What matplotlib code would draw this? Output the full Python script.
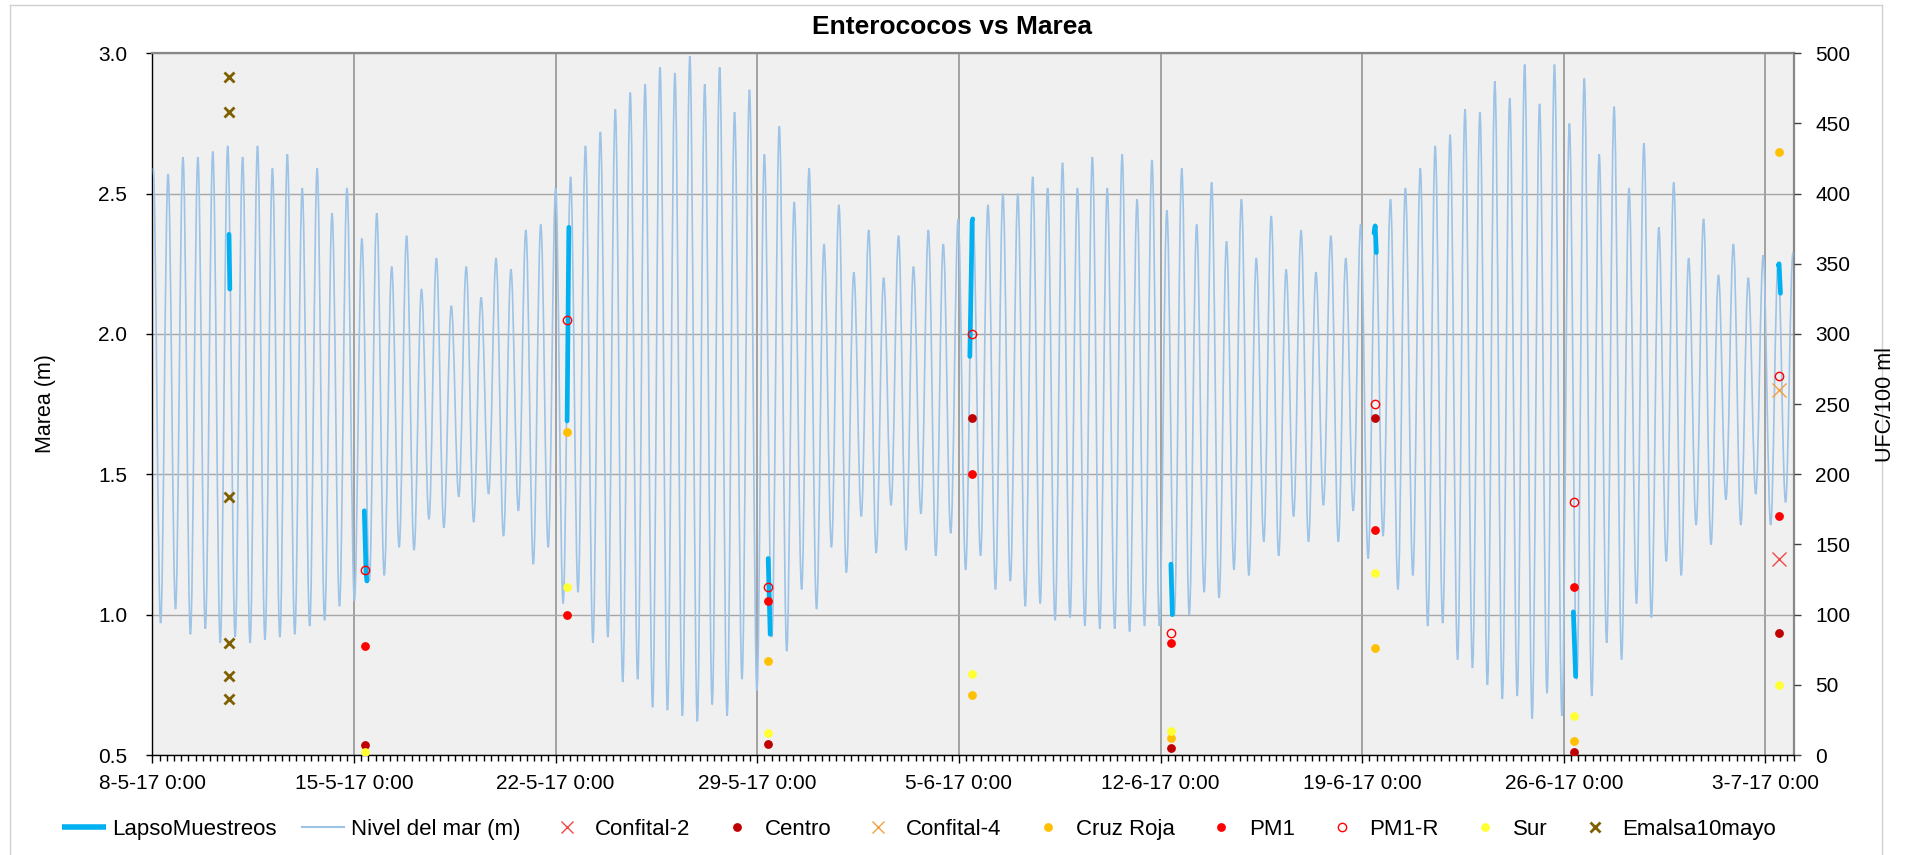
import numpy as np
import pandas as pd
import matplotlib
matplotlib.use("Agg")
import matplotlib.pyplot as plt
import matplotlib.dates as mdates
from matplotlib.lines import Line2D
from matplotlib.path import Path
from matplotlib.patches import PathPatch

plt.rcParams['font.family'] = ['Liberation Sans', 'DejaVu Sans']

# ---------------------------------------------------------------------------
# Sea level: successive high / low water levels (m), one every ~6 h 13 min
# ---------------------------------------------------------------------------
tide_start = "2017-05-08 00:43"
tide_step_min = 372.6
tide_levels = [
    2.59, 0.97, 2.57, 1.02, 2.63, 0.93, 2.63, 0.95, 2.65, 0.90,
    2.67, 0.92, 2.63, 0.90, 2.67, 0.91, 2.59, 0.92, 2.64, 0.93,
    2.52, 0.96, 2.59, 0.98, 2.43, 1.03, 2.52, 1.05, 2.34, 1.12,
    2.43, 1.14, 2.24, 1.24, 2.35, 1.23, 2.16, 1.34, 2.27, 1.31,
    2.10, 1.42, 2.24, 1.33, 2.13, 1.43, 2.27, 1.28, 2.23, 1.37,
    2.37, 1.18, 2.39, 1.24, 2.52, 1.04, 2.56, 1.08, 2.67, 0.90,
    2.72, 0.92, 2.80, 0.76, 2.86, 0.77, 2.89, 0.67, 2.95, 0.66,
    2.93, 0.64, 2.99, 0.62, 2.89, 0.68, 2.95, 0.64, 2.79, 0.77,
    2.87, 0.73, 2.64, 0.92, 2.74, 0.87, 2.47, 1.09, 2.59, 1.02,
    2.32, 1.24, 2.46, 1.15, 2.22, 1.35, 2.37, 1.22, 2.20, 1.39,
    2.35, 1.23, 2.24, 1.36, 2.37, 1.21, 2.32, 1.29, 2.41, 1.16,
    2.41, 1.21, 2.46, 1.09, 2.50, 1.12, 2.50, 1.03, 2.56, 1.04,
    2.52, 0.98, 2.61, 0.99, 2.52, 0.96, 2.63, 0.95, 2.52, 0.95,
    2.64, 0.94, 2.48, 0.96, 2.62, 0.96, 2.44, 1.00, 2.59, 1.00,
    2.39, 1.08, 2.54, 1.06, 2.33, 1.16, 2.48, 1.14, 2.27, 1.26,
    2.42, 1.21, 2.23, 1.35, 2.37, 1.26, 2.22, 1.39, 2.35, 1.26,
    2.27, 1.37, 2.39, 1.20, 2.38, 1.28, 2.48, 1.09, 2.52, 1.14,
    2.59, 0.96, 2.67, 0.97, 2.71, 0.84, 2.80, 0.81, 2.79, 0.75,
    2.90, 0.70, 2.84, 0.71, 2.96, 0.63, 2.82, 0.72, 2.96, 0.64,
    2.75, 0.77, 2.91, 0.71, 2.64, 0.90, 2.81, 0.84, 2.52, 1.04,
    2.68, 0.99, 2.38, 1.19, 2.54, 1.14, 2.27, 1.32, 2.41, 1.25,
    2.21, 1.41, 2.32, 1.32, 2.20, 1.43, 2.28, 1.32, 2.25, 1.40,
    2.29,
]

# Sea level during each sampling session (LapsoMuestreos)
lapso_times = [
    ["2017-05-10 15:55", "2017-05-10 16:35"],
    ["2017-05-15 08:38", "2017-05-15 10:05", "2017-05-15 10:48"],
    ["2017-05-22 09:36", "2017-05-22 11:02"],
    ["2017-05-29 09:07", "2017-05-29 10:48"],
    ["2017-06-05 09:07", "2017-06-05 11:02", "2017-06-05 11:31"],
    ["2017-06-12 08:38", "2017-06-12 09:50"],
    ["2017-06-19 09:50", "2017-06-19 10:48", "2017-06-19 11:46"],
    ["2017-06-26 07:55", "2017-06-26 09:50"],
    ["2017-07-03 10:48", "2017-07-03 11:17", "2017-07-03 12:29"],
]
lapso_levels = [
    [2.355, 2.16],
    [1.37, 1.15, 1.12],
    [1.69, 2.38],
    [1.20, 0.93],
    [1.92, 2.40, 2.41],
    [1.18, 1.00],
    [2.36, 2.385, 2.29],
    [1.01, 0.78],
    [2.245, 2.25, 2.145],
]

# ---------------------------------------------------------------------------
# Enterococci counts (UFC/100 ml) per sampling date
# ---------------------------------------------------------------------------
sample_dates = ["2017-05-15 09:36", "2017-05-22 09:22", "2017-05-29 09:22",
                "2017-06-05 10:34", "2017-06-12 08:38", "2017-06-19 10:19",
                "2017-06-26 08:38", "2017-07-03 11:31"]
nan = np.nan
confital2 = [nan, nan, nan, nan, nan, nan, nan, 140]
centro    = [7,   nan, 8,   240, 5,   240, 2,   87]
confital4 = [nan, nan, nan, nan, nan, nan, nan, 260]
cruz_roja = [nan, 230, 67,  43,  12,  76,  10,  430]
pm1       = [78,  100, 110, 200, 80,  160, 120, 170]
pm1_r     = [132, 310, 120, 300, 87,  250, 180, 270]
sur       = [2,   120, 16,  58,  17,  130, 28,  50]

emalsa_date = "2017-05-10 16:10"
emalsa_values = [483, 458, 184, 80, 56, 40]

# ---------------------------------------------------------------------------
W, H = 1910, 855
fig = plt.figure(figsize=(W / 100, H / 100), dpi=100)
fig.patch.set_facecolor('white')

x0, x1, y_top, y_bot = 152.3, 1794.3, 53.3, 755.0
ax = fig.add_axes([x0 / W, 1 - y_bot / H, (x1 - x0) / W, (y_bot - y_top) / H])
ax.set_facecolor('#F0F0F0')

# Sampling sessions (thick segments)
for seg_t, seg_v in zip(lapso_times, lapso_levels):
    ax.plot(pd.to_datetime(seg_t), seg_v, color='#00B0F0', lw=3.4,
            solid_capstyle='round', solid_joinstyle='round', zorder=4)

ax.set_xlim(pd.Timestamp("2017-05-08"), pd.Timestamp("2017-07-04"))
ax.set_ylim(0.5, 3.0)

# Sea level curve: smooth cubic path through each high / low water,
# with flat tangents at the turning points
tide_t = pd.Timestamp(tide_start) + pd.to_timedelta(
    np.arange(len(tide_levels)) * tide_step_min, unit='min')
tx = mdates.date2num(tide_t.to_pydatetime())
verts = [(tx[0], tide_levels[0])]
codes = [Path.MOVETO]
for i in range(1, len(tide_levels)):
    dt = tx[i] - tx[i - 1]
    verts += [(tx[i - 1] + 0.36 * dt, tide_levels[i - 1]),
              (tx[i] - 0.36 * dt, tide_levels[i]),
              (tx[i], tide_levels[i])]
    codes += [Path.CURVE4] * 3
ax.add_patch(PathPatch(Path(verts, codes), facecolor='none',
                       edgecolor='#9DC3E6', lw=1.2, zorder=3))

ax.set_yticks(np.arange(0.5, 3.01, 0.5))
ax.yaxis.set_major_formatter(matplotlib.ticker.FormatStrFormatter('%.1f'))
ax.xaxis.set_major_locator(mdates.WeekdayLocator(byweekday=mdates.MO))
ax.xaxis.set_minor_locator(mdates.HourLocator(byhour=[0, 6, 12, 18]))


def fmt_date(v, pos):
    d = mdates.num2date(v)
    return f"{d.day}-{d.month}-{d.strftime('%y')} {d.hour}:{d.minute:02d}"


ax.xaxis.set_major_formatter(matplotlib.ticker.FuncFormatter(fmt_date))

ax.grid(axis='y', color='#A6A6A6', lw=1.0, zorder=1)
ax.grid(axis='x', which='major', color='#8C8C8C', lw=1.1, zorder=1)
ax.set_axisbelow(True)

ax.tick_params(axis='x', which='major', direction='out', length=6, width=1,
               labelsize=15, pad=8, color='black')
ax.tick_params(axis='x', which='minor', direction='out', length=4.5, width=1,
               color='black')
ax.tick_params(axis='y', direction='out', length=4, width=1, labelsize=15,
               pad=14, color='black')

for side in ('left', 'bottom'):
    ax.spines[side].set_color('black')
    ax.spines[side].set_linewidth(1.0)
for side in ('top', 'right'):
    ax.spines[side].set_color('#888888')
    ax.spines[side].set_linewidth(1.6)

ax2 = ax.twinx()
ax2.set_ylim(0, 500)
ax2.set_yticks(np.arange(0, 501, 50))
ax2.tick_params(axis='y', direction='out', length=5, width=1, labelsize=15,
                pad=10, color='#404040')
for side in ('left', 'bottom', 'top', 'right'):
    ax2.spines[side].set_visible(False)

sd = pd.to_datetime(sample_dates)
dot = dict(linestyle='none', marker='o', markersize=5.3)
ax2.plot(sd, confital2, linestyle='none', marker='x', markersize=10,
         markeredgewidth=1.0, color='#F04848', zorder=5)
ax2.plot(sd, centro, color='#C00000', **dot, zorder=5)
ax2.plot(sd, confital4, linestyle='none', marker='x', markersize=10,
         markeredgewidth=1.0, color='#F7A040', zorder=5)
ax2.plot(sd, cruz_roja, color='#FFC000', **dot, zorder=5)
ax2.plot(sd, pm1, color='#FF0000', **dot, zorder=5)
ax2.plot(sd, pm1_r, linestyle='none', marker='o', markersize=6.0,
         markerfacecolor='none', markeredgecolor='#FF0000',
         markeredgewidth=1.0, zorder=5)
ax2.plot(sd, sur, color='#FFFF33', **dot, zorder=5)
ax2.plot([pd.Timestamp(emalsa_date)] * len(emalsa_values), emalsa_values,
         linestyle='none', marker='x', markersize=7, markeredgewidth=2.0,
         color='#7F6000', zorder=5)

# Titles and axis labels
fig.text(952 / W, 1 - 27 / H, 'Enterococos vs Marea', ha='center',
         va='center', fontsize=19, fontweight='bold')
fig.text(45 / W, 1 - 404 / H, 'Marea (m)', rotation=90, ha='center',
         va='center', fontsize=15.5)
fig.text(1885 / W, 1 - 404 / H, 'UFC/100 ml', rotation=90, ha='center',
         va='center', fontsize=15.5)

# Legend
handles = [
    Line2D([], [], color='#00B0F0', lw=4, solid_capstyle='butt'),
    Line2D([], [], color='#9DC3E6', lw=1.5, solid_capstyle='butt'),
    Line2D([], [], linestyle='none', marker='x', markersize=8,
           markeredgewidth=1.0, color='#F04848'),
    Line2D([], [], color='#C00000', **dot),
    Line2D([], [], linestyle='none', marker='x', markersize=8,
           markeredgewidth=1.0, color='#F7A040'),
    Line2D([], [], color='#FFC000', **dot),
    Line2D([], [], color='#FF0000', **dot),
    Line2D([], [], linestyle='none', marker='o', markersize=6.0,
           markerfacecolor='none', markeredgecolor='#FF0000'),
    Line2D([], [], color='#FFFF33', **dot),
    Line2D([], [], linestyle='none', marker='x', markersize=7,
           markeredgewidth=2.0, color='#7F6000'),
]
labels = ['LapsoMuestreos', 'Nivel del mar (m)', 'Confital-2', 'Centro',
          'Confital-4', 'Cruz Roja', 'PM1', 'PM1-R', 'Sur', 'Emalsa10mayo']
fig.legend(handles, labels, loc='center', bbox_to_anchor=(919 / W, 1 - 829 / H),
           ncol=10, frameon=False, fontsize=16, handlelength=2.0,
           handletextpad=0.25, columnspacing=1.1, borderaxespad=0)

# Chart area border
fig.add_artist(Line2D([10 / W, 10 / W], [0, 1 - 5 / H], color='#D0D0D0',
                      lw=1, transform=fig.transFigure))
fig.add_artist(Line2D([10 / W, 1882 / W], [1 - 5 / H, 1 - 5 / H],
                      color='#D0D0D0', lw=1, transform=fig.transFigure))
fig.add_artist(Line2D([1882 / W, 1882 / W], [0, 1 - 5 / H], color='#D0D0D0',
                      lw=1, transform=fig.transFigure))

fig.savefig('out.png', dpi=100)
